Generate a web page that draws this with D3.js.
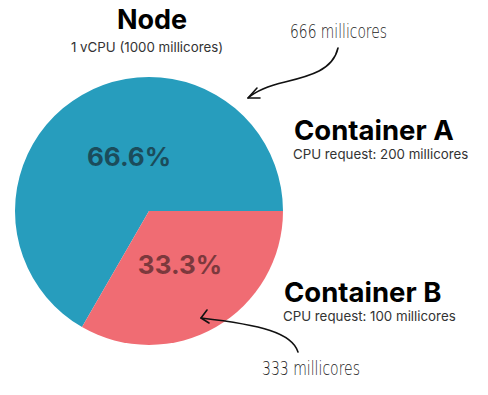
<!DOCTYPE html>
<html>
<head>
<meta charset="utf-8">
<script src="https://cdn.jsdelivr.net/npm/d3@7"></script>
<style>
    html, body { margin: 0; padding: 0; background: #ffffff; }
    svg { display: block; }
</style>
</head>
<body>
<div id="chart"></div>
<script>
var containers = ['Container A', 'Container B'];
var shares = [66.6, 33.3];
var requests = ['CPU request: 200 millicores', 'CPU request: 100 millicores'];
var notes = ['666 millicores', '333 millicores'];
var nodeTitle = 'Node';
var nodeSub = '1 vCPU (1000 millicores)';

var width = 488,
    height = 395,
    radius = 134,
    cx = 149,
    cy = 211,
    colors = ['#279dbd', '#f06c73'],
    labelColors = ['#1b4c5b', '#7c393d']
;

var data = containers.map(function(d, i) {
    return { name: d, value: shares[i], request: requests[i], note: notes[i] };
});

var svg = d3.select('#chart')
    .append('svg')
    .attr('width', width)
    .attr('height', height)
    .style('font-family', 'Inter, "Noto Sans", sans-serif')
;

// title
svg.append('text')
    .attr('x', 152).attr('y', 29)
    .attr('text-anchor', 'middle')
    .style('font-size', '27px')
    .style('font-weight', 700)
    .style('fill', '#000')
    .text(nodeTitle);

svg.append('text')
    .attr('x', 147).attr('y', 52)
    .attr('text-anchor', 'middle')
    .style('font-size', '13.3px')
    .style('fill', '#333')
    .text(nodeSub);

var pie = d3.pie()
    .sort(null)
    .startAngle(Math.PI * 7 / 6)
    .endAngle(Math.PI * 7 / 6 + Math.PI * 2)
    .value(function(d) { return d.value; })
;

var arc = d3.arc().innerRadius(0).outerRadius(radius);
var labelArc = d3.arc().innerRadius(62).outerRadius(62);

var g = svg.append('g')
    .attr('transform', 'translate(' + cx + ',' + cy + ')');

var arcs = pie(data);

g.selectAll('path')
    .data(arcs)
    .enter()
    .append('path')
    .attr('d', arc)
    .style('fill', function(d) { return colors[d.index]; })
;

// the blue label sits a bit right of its centroid
var nudge = [[11, -1], [0, 0]];

g.selectAll('text.pct')
    .data(arcs)
    .enter()
    .append('text')
    .attr('class', 'pct')
    .attr('x', function(d) { return labelArc.centroid(d)[0] + nudge[d.index][0]; })
    .attr('y', function(d) { return labelArc.centroid(d)[1] + nudge[d.index][1]; })
    .attr('dy', '0.36em')
    .attr('text-anchor', 'middle')
    .style('font-size', '26px')
    .style('font-weight', 700)
    .style('fill', function(d) { return labelColors[d.index]; })
    .text(function(d) { return d.data.value + '%'; })
;

// headings on the right
var heads = [{ x: 294, y: 140, sy: 159 }, { x: 284, y: 302, sy: 321 }];

heads.forEach(function(h, i) {
    svg.append('text')
        .attr('x', h.x).attr('y', h.y)
        .style('font-size', '27.5px')
        .style('font-weight', 700)
        .style('fill', '#000')
        .text(data[i].name);
    svg.append('text')
        .attr('x', h.x - 1).attr('y', h.sy)
        .style('font-size', '13.3px')
        .style('fill', '#333')
        .text(data[i].request);
});

// hand drawn notes
var hand = [
    { x: 290, y: 38, w: 97, path: 'M338,48 C333,70 310,76 285,82 C268,86 256,91 248,98', head: 'M257,88 L248,98 L260,98' },
    { x: 262, y: 375, w: 98, path: 'M298,352 C292,333 262,325 201,318', head: 'M207,310 L201,318 L209,323' }
];

hand.forEach(function(h, i) {
    svg.append('text')
        .attr('x', h.x).attr('y', h.y)
        .attr('textLength', h.w)
        .attr('lengthAdjust', 'spacingAndGlyphs')
        .style('font-family', '"DejaVu Sans", sans-serif')
        .style('font-weight', 200)
        .style('font-size', '19px')
        .style('fill', '#222')
        .text(data[i].note);
    svg.append('path')
        .attr('d', h.path)
        .style('fill', 'none')
        .style('stroke', '#111')
        .style('stroke-width', 1.6)
        .style('stroke-linecap', 'round');
    svg.append('path')
        .attr('d', h.head)
        .style('fill', 'none')
        .style('stroke', '#111')
        .style('stroke-width', 1.6)
        .style('stroke-linecap', 'round')
        .style('stroke-linejoin', 'round');
});
</script>
</body>
</html>
